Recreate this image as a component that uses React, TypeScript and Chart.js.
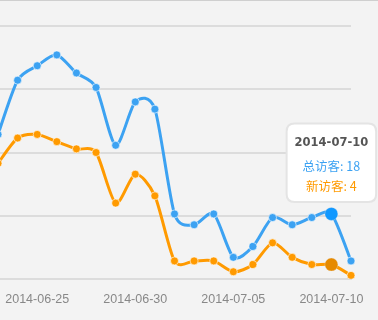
import React, { useEffect, useRef } from "react";
import { Chart, registerables, Tooltip } from "chart.js";

Chart.register(...registerables);

const dates = [
  "2014-06-23", "2014-06-24", "2014-06-25", "2014-06-26", "2014-06-27",
  "2014-06-28", "2014-06-29", "2014-06-30", "2014-07-01", "2014-07-02",
  "2014-07-03", "2014-07-04", "2014-07-05", "2014-07-06", "2014-07-07",
  "2014-07-08", "2014-07-09", "2014-07-10", "2014-07-11",
];
const totalVisitors = [40, 55, 59, 62, 57, 53, 37, 49, 47, 18, 15, 18, 6, 9, 17, 15, 17, 18, 5];
const newVisitors = [32, 39, 40, 38, 36, 35, 21, 29, 23, 5, 5, 5, 2, 4, 10, 6, 4, 4, 1];
const seriesNames = ["总访客", "新访客"];
const activeIndex = 17;

const BLUE = "#3ca2f2";
const ORANGE = "#ff9a00";
const SMOOTH = 0.13;

(Tooltip.positioners as any).topPoint = function (items: any[]) {
  if (!items.length) return false;
  let y = Infinity;
  items.forEach((it) => { if (it.element.y < y) y = it.element.y; });
  return { x: items[0].element.x, y };
};

// Uniform (non distance-weighted) spline control points, like the reference's smoothing.
const uniformSpline = {
  id: "uniformSpline",
  beforeDatasetsDraw(chart: any) {
    chart.data.datasets.forEach((_: any, di: number) => {
      const meta = chart.getDatasetMeta(di);
      const pts = meta.data as any[];
      const n = pts.length;
      for (let i = 0; i < n; i++) {
        const p = pts[i];
        const prev = pts[Math.max(0, i - 1)];
        const next = pts[Math.min(n - 1, i + 1)];
        const vx = (next.x - prev.x) * SMOOTH;
        const vy = (next.y - prev.y) * SMOOTH;
        p.cp1x = p.x - vx;
        p.cp1y = p.y - vy;
        p.cp2x = p.x + vx;
        p.cp2y = p.y + vy;
      }
      if (meta.dataset) {
        meta.dataset._pointsUpdated = true;
        meta.dataset._path = undefined;
      }
    });
  },
};

function series(label: string, data: number[], color: string) {
  return {
    label,
    data,
    borderColor: color,
    backgroundColor: color,
    pointBackgroundColor: color,
    pointBorderColor: "rgba(255,255,255,0.6)",
    borderWidth: 3,
    pointRadius: 4,
    pointBorderWidth: 1,
    pointHoverRadius: 6.5,
    pointHoverBorderWidth: 0.5,
    tension: 0.4,
  };
}

export default function App() {
  const ref = useRef<HTMLCanvasElement | null>(null);
  useEffect(() => {
    if (!ref.current) return;
    const chart = new Chart(ref.current, {
      type: "line",
      data: {
        labels: dates,
        datasets: [
          series(seriesNames[0], totalVisitors, BLUE),
          series(seriesNames[1], newVisitors, ORANGE),
        ],
      },
      plugins: [uniformSpline],
      options: {
        responsive: false,
        animation: false,
        events: [],
        layout: { autoPadding: false, padding: { left: 0, right: 27, top: 26, bottom: 13 } },
        scales: {
          x: {
            grid: { display: false, drawTicks: false },
            border: { display: true, color: "#dcdcdc", width: 2 },
            afterFit: (s: any) => { s.height = 28; s.paddingLeft = 0; s.paddingRight = 0; },
            ticks: {
              autoSkip: false,
              maxRotation: 0,
              padding: 13,
              color: "#888",
              font: { family: "Liberation Sans", size: 12.5 },
              callback: (_v: any, i: number) => (i % 5 === 2 ? dates[i] : ""),
            },
          },
          y: {
            min: 0,
            max: 70,
            afterFit: (s: any) => { s.width = 0; },
            ticks: { display: false, stepSize: 17.5 },
            border: { display: false },
            grid: { color: "#dcdcdc", lineWidth: 2, drawTicks: false },
          },
        },
        plugins: {
          legend: { display: false },
          tooltip: {
            enabled: true,
            mode: "index",
            intersect: false,
            position: "topPoint" as any,
            xAlign: "center",
            yAlign: "bottom",
            caretSize: 0,
            caretPadding: 12,
            backgroundColor: "#ffffff",
            borderColor: "#e4e4e4",
            borderWidth: 2,
            cornerRadius: 8,
            displayColors: false,
            titleAlign: "center",
            bodyAlign: "center",
            titleColor: "#555",
            titleFont: { family: "DejaVu Sans", size: 11.5, weight: "bold" },
            titleMarginBottom: 8.6,
            bodyFont: { family: "Noto Sans CJK SC", size: 12.5 },
            bodySpacing: 5,
            padding: { top: 13, bottom: 8, left: 8, right: 8 },
            callbacks: {
              label: (ctx: any) => `${ctx.dataset.label}: ${ctx.parsed.y}`,
              labelTextColor: (ctx: any) => (ctx.datasetIndex === 0 ? BLUE : ORANGE),
            },
          },
        },
      },
    });
    const active = [
      { datasetIndex: 0, index: activeIndex },
      { datasetIndex: 1, index: activeIndex },
    ];
    chart.setActiveElements(active);
    const el = chart.getDatasetMeta(0).data[activeIndex];
    chart.tooltip?.setActiveElements(active, { x: el.x, y: el.y });
    chart.update();
    return () => chart.destroy();
  }, []);
  return (
    <div
      style={{
        position: "fixed",
        left: 0,
        top: 0,
        width: 378,
        height: 320,
        overflow: "hidden",
        background: "#f3f3f3",
      }}
    >
      <canvas
        ref={ref}
        width={380}
        height={320}
        style={{ position: "absolute", left: -2, top: 0, width: 380, height: 320 }}
      />
      <div style={{ position: "absolute", left: 0, top: 0, width: 378, height: 1, background: "#cfcfcf" }} />
    </div>
  );
}
